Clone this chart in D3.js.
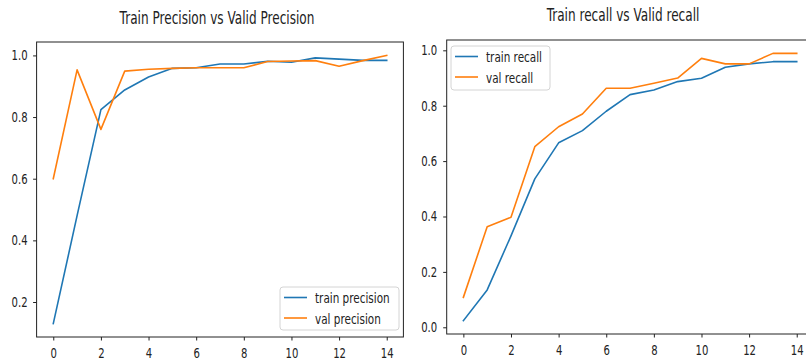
<!DOCTYPE html>
<html>
<head>
<meta charset="utf-8">
<script src="https://cdn.jsdelivr.net/npm/d3@7"></script>
<style>
  body { margin: 0; background: #fff; }
  svg { display: block; font-family: "DejaVu Sans", sans-serif; }
</style>
</head>
<body>
<svg id="fig" width="806" height="360"></svg>
<script>
// Epoch index on the x axis
const epochs = [0, 1, 2, 3, 4, 5, 6, 7, 8, 9, 10, 11, 12, 13, 14];

// Precision per epoch
const trainPrecision = [0.13, 0.48, 0.824, 0.888, 0.93, 0.958, 0.96, 0.972, 0.972, 0.981, 0.978, 0.992, 0.988, 0.984, 0.984];
const valPrecision   = [0.60, 0.953, 0.76, 0.949, 0.955, 0.958, 0.96, 0.96, 0.96, 0.98, 0.982, 0.983, 0.965, 0.983, 1.0];

// Recall per epoch
const trainRecall = [0.024, 0.135, 0.33, 0.536, 0.666, 0.71, 0.78, 0.84, 0.857, 0.887, 0.899, 0.939, 0.951, 0.959, 0.959];
const valRecall   = [0.108, 0.363, 0.397, 0.652, 0.724, 0.77, 0.863, 0.863, 0.881, 0.9, 0.971, 0.951, 0.951, 0.989, 0.989];

// Tick values
const xTicks = [0, 2, 4, 6, 8, 10, 12, 14];
const precisionTicks = [0.2, 0.4, 0.6, 0.8, 1.0];
const recallTicks = [0.0, 0.2, 0.4, 0.6, 0.8, 1.0];

const BLUE = "#1f77b4", ORANGE = "#ff7f0e", INK = "#222";
const SX = 0.72; // horizontal squeeze applied to all lettering

const svg = d3.select("#fig");

function squeezeText(sel) {
  sel.each(function () {
    const t = d3.select(this);
    const x = +t.attr("x") || 0;
    t.attr("x", x / SX).attr("transform", `scale(${SX},1)`);
  });
}

function label(g, x, y, str, size, anchor) {
  g.append("text")
    .attr("transform", `translate(${x},${y}) scale(${SX},1)`)
    .attr("text-anchor", anchor)
    .attr("font-size", size)
    .attr("fill", INK)
    .text(str);
}

function panel(o) {
  const g = svg.append("g");
  const all = o.series.flatMap(s => s.values);
  const [lo, hi] = d3.extent(all);
  const pad = (hi - lo) * 0.05;
  const x = d3.scaleLinear().domain([-0.7, 14.7]).range([o.left, o.right]);
  const y = d3.scaleLinear().domain([lo - pad, hi + pad]).range([o.bottom, o.top]);

  // spines
  g.append("rect")
    .attr("x", o.left).attr("y", o.top)
    .attr("width", o.right - o.left).attr("height", o.bottom - o.top)
    .attr("fill", "none").attr("stroke", INK).attr("stroke-width", 1);

  const xa = g.append("g").attr("transform", `translate(0,${o.bottom})`)
    .call(d3.axisBottom(x).tickValues(xTicks).tickFormat(d3.format("d"))
      .tickSize(3.5).tickSizeOuter(0).tickPadding(7.5));
  const ya = g.append("g").attr("transform", `translate(${o.left},0)`)
    .call(d3.axisLeft(y).tickValues(o.yTicks).tickFormat(d3.format(".1f"))
      .tickSize(3.5).tickSizeOuter(0).tickPadding(o.yPad));
  [xa, ya].forEach(a => {
    a.select(".domain").remove();
    a.selectAll("line").attr("stroke", INK);
    a.selectAll("text").attr("font-size", 14).attr("fill", INK)
      .attr("font-family", '"DejaVu Sans", sans-serif');
    squeezeText(a.selectAll("text"));
  });

  const line = d3.line().x((d, i) => x(epochs[i])).y(d => y(d));
  o.series.forEach(s => {
    g.append("path").datum(s.values)
      .attr("d", line).attr("fill", "none")
      .attr("stroke", s.color).attr("stroke-width", 1.6)
      .attr("stroke-linejoin", "round").attr("stroke-linecap", "square");
  });

  label(g, o.titleX, o.titleY, o.title, 16.8, "middle");

  // legend
  const L = o.legend;
  g.append("rect")
    .attr("x", L.x).attr("y", L.y).attr("width", L.w).attr("height", L.h)
    .attr("rx", 3).attr("fill", "#fff").attr("fill-opacity", 0.8)
    .attr("stroke", "#d4d4d4").attr("stroke-width", 1);
  o.series.forEach((s, i) => {
    const cy = L.y + 10.5 + i * 20.5;
    g.append("line")
      .attr("x1", L.x + 4).attr("x2", L.x + 27)
      .attr("y1", cy).attr("y2", cy)
      .attr("stroke", s.color).attr("stroke-width", 1.6);
    label(g, L.x + 35, cy + 5.5, s.name, 14.5, "start");
  });
}

panel({
  left: 36.6, right: 403.4, top: 42, bottom: 337, yPad: 5.5,
  yTicks: precisionTicks,
  title: "Train Precision vs Valid Precision", titleX: 217, titleY: 24,
  series: [
    { name: "train precision", values: trainPrecision, color: BLUE },
    { name: "val precision", values: valPrecision, color: ORANGE }
  ],
  legend: { x: 280, y: 287, w: 119, h: 43 }
});

panel({
  left: 446.7, right: 813.4, top: 40, bottom: 334, yPad: 6,
  yTicks: recallTicks,
  title: "Train recall vs Valid recall", titleX: 623, titleY: 21,
  series: [
    { name: "train recall", values: trainRecall, color: BLUE },
    { name: "val recall", values: valRecall, color: ORANGE }
  ],
  legend: { x: 451, y: 46, w: 99, h: 44 }
});
</script>
</body>
</html>
